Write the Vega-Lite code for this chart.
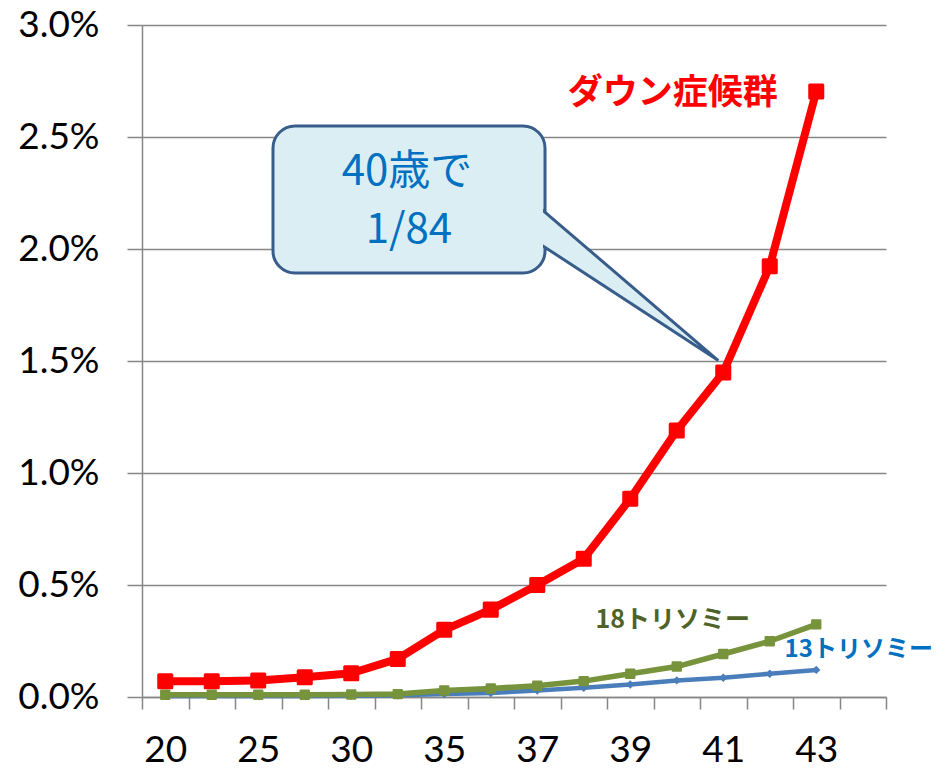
{
  "$schema": "https://vega.github.io/schema/vega-lite/v6.json",
  "width": 744,
  "height": 672,
  "autosize": "none",
  "padding": {"left": 142, "top": 25, "right": 61, "bottom": 72},
  "background": "white",
  "config": {"view": {"stroke": null}},
  "encoding": {
    "y": {
      "field": "rate",
      "type": "quantitative",
      "scale": {"domain": [0, 0.03], "nice": false},
      "axis": {
        "title": null,
        "values": [0, 0.005, 0.01, 0.015, 0.02, 0.025, 0.03],
        "format": ".1%",
        "grid": true,
        "gridColor": "#868686",
        "gridWidth": 1.5,
        "domainColor": "#868686",
        "domainWidth": 1.5,
        "tickColor": "#868686",
        "tickWidth": 1.5,
        "tickSize": 15,
        "labelFont": "Lato",
        "labelFontSize": 37,
        "labelColor": "#000000",
        "labelPadding": 28
      }
    }
  },
  "layer": [
    {
      "data": {
        "values": [
          {"age": "20", "series": "down", "rate": 0.00070}, {"age": "20", "series": "t18", "rate": 0.00010}, {"age": "20", "series": "t13", "rate": 0.00004},
          {"age": "22", "series": "down", "rate": 0.00070}, {"age": "22", "series": "t18", "rate": 0.00010}, {"age": "22", "series": "t13", "rate": 0.00004},
          {"age": "25", "series": "down", "rate": 0.00074}, {"age": "25", "series": "t18", "rate": 0.00010}, {"age": "25", "series": "t13", "rate": 0.00004},
          {"age": "27", "series": "down", "rate": 0.00088}, {"age": "27", "series": "t18", "rate": 0.00010}, {"age": "27", "series": "t13", "rate": 0.00005},
          {"age": "30", "series": "down", "rate": 0.00106}, {"age": "30", "series": "t18", "rate": 0.00011}, {"age": "30", "series": "t13", "rate": 0.00006},
          {"age": "32", "series": "down", "rate": 0.00170}, {"age": "32", "series": "t18", "rate": 0.00013}, {"age": "32", "series": "t13", "rate": 0.00008},
          {"age": "35", "series": "down", "rate": 0.00300}, {"age": "35", "series": "t18", "rate": 0.00029}, {"age": "35", "series": "t13", "rate": 0.00013},
          {"age": "36", "series": "down", "rate": 0.00390}, {"age": "36", "series": "t18", "rate": 0.00038}, {"age": "36", "series": "t13", "rate": 0.00018},
          {"age": "37", "series": "down", "rate": 0.00500}, {"age": "37", "series": "t18", "rate": 0.00050}, {"age": "37", "series": "t13", "rate": 0.00029},
          {"age": "38", "series": "down", "rate": 0.00617}, {"age": "38", "series": "t18", "rate": 0.00071}, {"age": "38", "series": "t13", "rate": 0.00041},
          {"age": "39", "series": "down", "rate": 0.00885}, {"age": "39", "series": "t18", "rate": 0.00104}, {"age": "39", "series": "t13", "rate": 0.00056},
          {"age": "40", "series": "down", "rate": 0.01190}, {"age": "40", "series": "t18", "rate": 0.00136}, {"age": "40", "series": "t13", "rate": 0.00074},
          {"age": "41", "series": "down", "rate": 0.01449}, {"age": "41", "series": "t18", "rate": 0.00192}, {"age": "41", "series": "t13", "rate": 0.00086},
          {"age": "42", "series": "down", "rate": 0.01923}, {"age": "42", "series": "t18", "rate": 0.00249}, {"age": "42", "series": "t13", "rate": 0.00104},
          {"age": "43", "series": "down", "rate": 0.02703}, {"age": "43", "series": "t18", "rate": 0.00324}, {"age": "43", "series": "t13", "rate": 0.00121}
        ]
      },
      "encoding": {
        "x": {
          "field": "age",
          "type": "ordinal",
          "bandPosition": 0.5,
          "scale": {
            "type": "band",
            "domain": ["20", "22", "25", "27", "30", "32", "35", "36", "37", "38", "39", "40", "41", "42", "43", "44"],
            "paddingInner": 0,
            "paddingOuter": 0
          },
          "axis": {
            "title": null,
            "tickBand": "extent",
            "labelExpr": "indexof(['20','25','30','35','37','39','41','43'], datum.label) >= 0 ? datum.label : ''",
            "labelAngle": 0,
            "labelFont": "Lato",
            "labelFontSize": 37,
            "labelColor": "#000000",
            "labelPadding": 23,
            "tickSize": 12,
            "tickColor": "#868686",
            "tickWidth": 1.5,
            "domainColor": "#868686",
            "domainWidth": 1.5,
            "grid": false
          }
        }
      },
      "layer": [
        {
          "transform": [{"filter": "datum.series === 't13'"}],
          "mark": {"type": "line", "color": "#4A7EBB", "strokeWidth": 4.5, "strokeJoin": "round"}
        },
        {
          "transform": [{"filter": "datum.series === 't13'"}],
          "mark": {"type": "point", "shape": "diamond", "filled": true, "opacity": 1, "color": "#4A7EBB", "size": 70}
        },
        {
          "transform": [{"filter": "datum.series === 't18'"}],
          "mark": {"type": "line", "color": "#77933C", "strokeWidth": 5.5, "strokeJoin": "round"}
        },
        {
          "transform": [{"filter": "datum.series === 't18'"}],
          "mark": {"type": "point", "shape": "square", "filled": true, "opacity": 1, "color": "#77933C", "stroke": "#77933C", "strokeWidth": 2, "strokeJoin": "round", "size": 70}
        },
        {
          "transform": [{"filter": "datum.series === 'down'"}],
          "mark": {"type": "line", "color": "#FF0000", "strokeWidth": 8, "strokeJoin": "round"}
        },
        {
          "transform": [{"filter": "datum.series === 'down'"}],
          "mark": {"type": "point", "shape": "square", "filled": true, "opacity": 1, "color": "#FF0000", "stroke": "#FF0000", "strokeWidth": 3, "strokeJoin": "round", "size": 170}
        },
        {
          "data": {
            "values": [
              {"age": "40", "rate": 0.02696, "label": "ダウン症候群", "size": 35, "colour": "#FF0000"},
              {"age": "40", "rate": 0.00342, "label": "18トリソミー", "size": 25, "colour": "#4F6228"},
              {"age": "44", "rate": 0.00208, "label": "13トリソミー", "size": 24, "colour": "#0070C0"}
            ]
          },
          "mark": {"type": "text", "font": "Noto Sans CJK JP", "fontWeight": "bold", "align": "center", "baseline": "middle", "dx": -4},
          "encoding": {
            "text": {"field": "label"},
            "size": {"field": "size", "type": "quantitative", "scale": null, "legend": null},
            "color": {"field": "colour", "type": "nominal", "scale": null, "legend": null}
          }
        }
      ]
    },
    {
      "layer": [
        {
          "data": {"values": [{"left": 2.817, "right": 8.667, "rate": 0.02549, "rate2": 0.01893}]},
          "mark": {"type": "rect", "fill": "#DBEEF4", "stroke": "#385D8A", "strokeWidth": 3, "cornerRadius": 22},
          "encoding": {
            "x": {"field": "left", "type": "quantitative", "scale": {"domain": [0, 16], "nice": false, "zero": false}, "axis": null},
            "x2": {"field": "right"},
            "y2": {"field": "rate2"}
          }
        },
        {
          "data": {
            "values": [
              {"px": 8.538, "rate": 0.02187, "rate2": 0.02025},
              {"px": 12.394, "rate": 0.01502, "rate2": 0.01502}
            ]
          },
          "mark": {"type": "area", "fill": "#DBEEF4", "stroke": "#385D8A", "strokeWidth": 3, "opacity": 1},
          "encoding": {
            "x": {"field": "px", "type": "quantitative", "axis": null},
            "y2": {"field": "rate2"}
          }
        },
        {
          "data": {"values": [{"left": 2.86, "right": 8.624, "rate": 0.0254, "rate2": 0.01902}]},
          "mark": {"type": "rect", "fill": "#DBEEF4", "cornerRadius": 20},
          "encoding": {
            "x": {"field": "left", "type": "quantitative", "axis": null},
            "x2": {"field": "right"},
            "y2": {"field": "rate2"}
          }
        },
        {
          "data": {
            "values": [
              {"px": 5.70, "rate": 0.02343, "line": "40歳で"},
              {"px": 5.74, "rate": 0.02087, "line": "1/84"}
            ]
          },
          "mark": {"type": "text", "font": "Noto Sans CJK JP", "fontSize": 42, "color": "#0070C0", "align": "center", "baseline": "middle"},
          "encoding": {
            "x": {"field": "px", "type": "quantitative", "axis": null},
            "text": {"field": "line"}
          }
        }
      ]
    }
  ],
  "resolve": {"scale": {"x": "independent"}}
}
